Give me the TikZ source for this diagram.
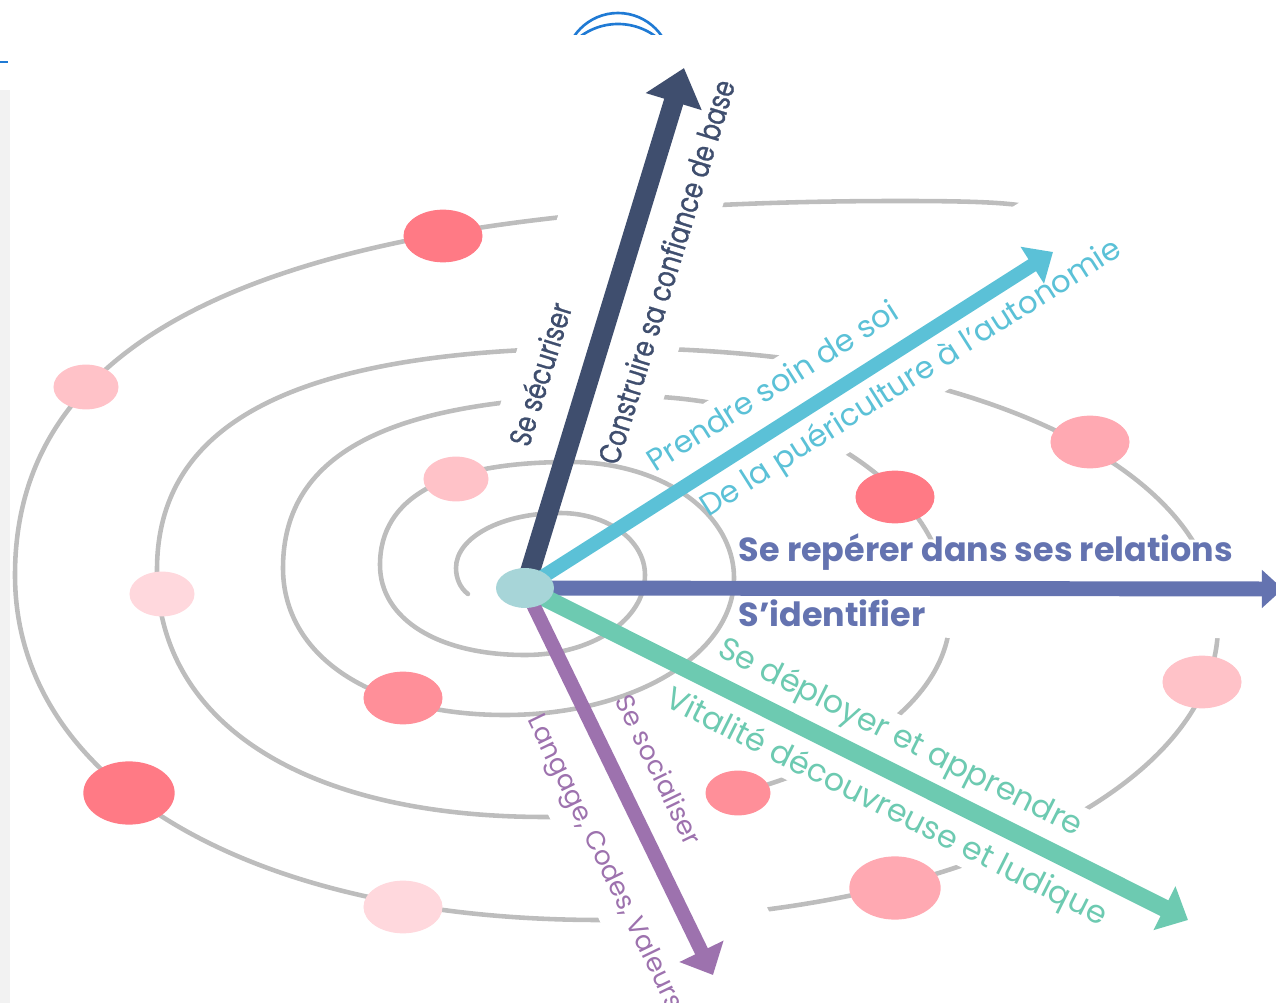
\documentclass[tikz,border=0pt]{standalone}
\usepackage{fontspec}
\setmainfont{Poppins}
\newfontfamily\etroite{Poppins}[FakeStretch=0.8, FakeBold=0.8]
\usetikzlibrary{arrows.meta,shapes.geometric,calc}

\definecolor{ardoise}{HTML}{3F4E6E}
\definecolor{turquoise}{HTML}{5BC1D7}
\definecolor{indigo}{HTML}{6473B0}
\definecolor{menthe}{HTML}{6DCAB1}
\definecolor{mauve}{HTML}{9D72AE}
\definecolor{coeur}{HTML}{A7D5D8}
\definecolor{trait}{HTML}{BDBDBD}
\definecolor{roseA}{HTML}{FF7A85}
\definecolor{roseB}{HTML}{FF8F99}
\definecolor{roseC}{HTML}{FFA9B2}
\definecolor{roseD}{HTML}{FFC2C8}
\definecolor{roseE}{HTML}{FFD8DD}
\definecolor{cadre}{HTML}{1F7AD4}

\tikzset{
  spirale/.style={draw=trait, line width=2.6pt, line cap=round},
  coupure/.style={draw=white, line width=#1},
  axe/.style={draw=#1, line width=9pt},
  pastille/.style={ellipse, fill=#1, inner sep=0pt, minimum width=45pt, minimum height=30pt},
  petite/.style={minimum width=37pt, minimum height=25.5pt},
  grande/.style={minimum width=52pt, minimum height=36pt},
  etiq/.style={anchor=base, inner sep=0pt, text=#1},
}

\begin{document}
\begin{tikzpicture}[x=0.02cm, y=-0.02cm]
    \useasboundingbox (0,0) rectangle (1276,1003);
    \fill [gray!10] (0,90) rectangle (10,1003);
    \draw [cadre, line width=1.2pt] (0,62) -- (8,62);
    \begin{scope}
      \clip (540,0) rectangle (700,35);
      \draw [cadre, line width=1.5pt] (618,66) circle [radius=53];
      \draw [cadre, line width=1.5pt] (618,87) circle [radius=63];
    \end{scope}
    \coordinate (c) at (525,588);
    \coordinate (pointeA) at (684,68);
    \coordinate (pointeB) at (1053,252);
    \coordinate (pointeC) at (1283,589);
    \coordinate (pointeD) at (1188,920);
    \coordinate (pointeE) at (713,975);
    \draw [spirale] (468,594) .. controls (460,588) and (456,578) .. (456,568)
      .. controls (456,537.2) and (501.8,513) .. (560,513)
      .. controls (607.6,513) and (645,540.3) .. (645,575)
      .. controls (645,619.8) and (592.2,655) .. (525,655)
      .. controls (438,655) and (380,619) .. (380,565)
      .. controls (380,497) and (444.6,462) .. (570,462)
      .. controls (661.8,462) and (734,513) .. (734,578)
      .. controls (734,654.7) and (633.2,715) .. (505,715)
      .. controls (371.8,715) and (283,656.2) .. (283,568)
      .. controls (283,451) and (394,396) .. (630,396)
      .. controls (809.2,396) and (950,492.4) .. (950,615)
      .. controls (950,728) and (771.8,817) .. (545,817)
      .. controls (304.4,817) and (157,723.1) .. (157,570)
      .. controls (157,419) and (302,348) .. (610,348)
      .. controls (962.6,348) and (1218,464.3) .. (1218,625)
      .. controls (1218,790.2) and (946,920) .. (600,920)
      .. controls (249,920) and (15,782) .. (15,575)
      .. controls (15,320.7) and (298.2,201) .. (900,201)
      .. controls (960,201) and (995,202) .. (1018,205);
    \draw [coupure=88pt] ($(c)!0.28!(pointeA)$) -- (pointeA);
    \draw [coupure=68pt] ($(c)!0.32!(pointeB)$) -- (pointeB);
    \draw [coupure=56pt] ($(c)!0.285!(pointeC)$) -- (pointeC);
    \draw [coupure=62pt] ($(c)!0.263!(pointeD)$) -- (pointeD);
    \draw [coupure=89pt] ($(c)!0.40!(pointeE)$) -- (pointeE);
    \draw [axe=ardoise, line width=11.3pt, -{Triangle[width=32pt,length=20pt]}] (c) -- (pointeA);
    \draw [axe=turquoise, line width=8pt, -{Triangle[width=24pt,length=14pt]}] (c) -- (pointeB);
    \draw [axe=indigo, line width=8.5pt, -{Triangle[width=21pt,length=12pt]}] (c) -- (pointeC);
    \draw [axe=menthe, line width=10pt, -{Triangle[width=27pt,length=15pt]}] (c) -- (pointeD);
    \draw [axe=mauve, line width=8pt, -{Triangle[width=27pt,length=15pt]}] (c) -- (pointeE);
    \node [etiq=ardoise, font=\etroite\fontsize{17.5}{20}\selectfont, rotate=72.9] (secu) at ($(c)!0.384!(pointeA)!21pt!90:(pointeA)$) {Se sécuriser};
    \node [etiq=ardoise, font=\etroite\fontsize{17.5}{20}\selectfont, rotate=72.9] (confiance) at ($(c)!0.632!(pointeA)!30.6pt!270:(pointeA)$) {Construire sa confiance de base};
    \node [etiq=turquoise, font=\fontsize{17.5}{20}\selectfont, rotate=32.4] (soin) at ($(c)!0.507!(pointeB)!15.3pt!90:(pointeB)$) {Prendre soin de soi};
    \node [etiq=turquoise, font=\fontsize{17.5}{20}\selectfont, rotate=32.4] (autonomie) at ($(c)!0.70!(pointeB)!22.5pt!270:(pointeB)$) {De la puériculture à l’autonomie};
    \node [etiq=indigo, font=\bfseries\fontsize{19}{21}\selectfont] (relations) at ($(c)!0.608!(pointeC)!15.3pt!90:(pointeC)$) {Se repérer dans ses relations};
    \node [etiq=indigo, font=\bfseries\fontsize{19}{21}\selectfont] (identifier) at ($(c)!0.405!(pointeC)!21.5pt!270:(pointeC)$) {S’identifier};
    \node [etiq=menthe, font=\fontsize{18}{20}\selectfont, rotate=-26.7] (deployer) at ($(c)!0.543!(pointeD)!14.2pt!90:(pointeD)$) {Se déployer et apprendre};
    \node [etiq=menthe, font=\fontsize{18}{20}\selectfont, rotate=-26.7] (vitalite) at ($(c)!0.568!(pointeD)!25pt!270:(pointeD)$) {Vitalité découvreuse et ludique};
    \node [etiq=mauve, font=\fontsize{15}{18}\selectfont, rotate=-64.1] (socialiser) at ($(c)!0.516!(pointeE)!18pt!90:(pointeE)$) {Se socialiser};
    \node [etiq=mauve, font=\fontsize{15}{18}\selectfont, rotate=-64.1] (langage) at ($(c)!0.655!(pointeE)!31.7pt!270:(pointeE)$) {Langage, Codes, Valeurs};
    \node [pastille=roseA] (tache1) at (443,236) {};
    \node [pastille=roseD, petite] (tache2) at (86,387) {};
    \node [pastille=roseD, petite] (tache3) at (456,479) {};
    \node [pastille=roseA] (tache4) at (895,497) {};
    \node [pastille=roseC] (tache5) at (1090,442) {};
    \node [pastille=roseE, petite] (tache6) at (162,594) {};
    \node [pastille=roseB] (tache7) at (403,698) {};
    \node [pastille=roseD] (tache8) at (1202,682) {};
    \node [pastille=roseA, grande] (tache9) at (129,793) {};
    \node [pastille=roseB, petite] (tache10) at (738,793) {};
    \node [pastille=roseE] (tache11) at (403,907) {};
    \node [pastille=roseC, grande] (tache12) at (895,888) {};
    \node [pastille=coeur, minimum width=33pt, minimum height=22.7pt] (centre) at (c) {};
\end{tikzpicture}
\end{document}
